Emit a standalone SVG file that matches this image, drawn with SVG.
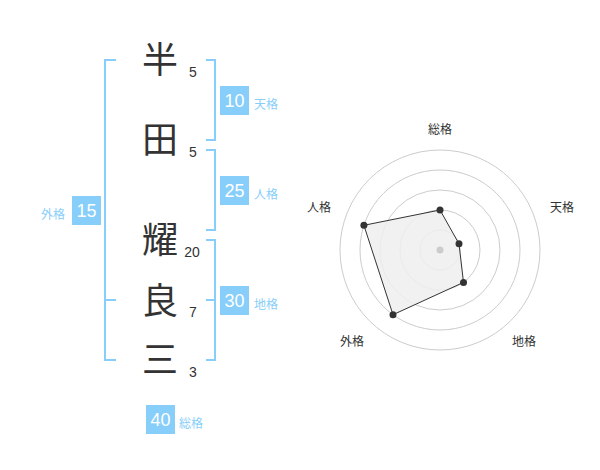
<svg xmlns="http://www.w3.org/2000/svg" width="600" height="470" viewBox="0 0 600 470">
<style>
.ch{font-family:"Noto Sans CJK JP","Noto Sans CJK SC",sans-serif;font-size:36px;fill:#333;text-anchor:middle}
.num{font-family:"Liberation Sans",Arial,sans-serif;font-size:14px;fill:#333;text-anchor:middle}
.br{fill:none;stroke:#87CEFA;stroke-width:2}
.box{fill:#87CEFA}
.bt{font-family:"Liberation Sans",Arial,sans-serif;font-size:18px;fill:#fff;text-anchor:middle}
.lb{font-family:"Noto Sans CJK JP","Noto Sans CJK SC",sans-serif;font-size:12px;fill:#87CEFA}
.rl{font-family:"Noto Sans CJK JP","Noto Sans CJK SC",sans-serif;font-size:12px;fill:#333;text-anchor:middle}
.ring{fill:none;stroke:#ccc;stroke-width:1}
.pt{fill:#333}
</style>
<rect width="600" height="470" fill="#fff"/>
<g id="chars">
<g id="c1"><text class="ch" x="160" y="73">半</text><text class="num" x="193" y="77">5</text></g>
<g id="c2"><text class="ch" x="160" y="153">田</text><text class="num" x="193" y="157">5</text></g>
<g id="c3"><text class="ch" x="160" y="253">耀</text><text class="num" x="192" y="257">20</text></g>
<g id="c4"><text class="ch" x="160" y="314">良</text><text class="num" x="193" y="317">7</text></g>
<g id="c5"><text class="ch" x="160" y="373">三</text><text class="num" x="193" y="377">3</text></g>
</g>
<g id="connectors">
<path class="br" d="M116,60 H105 V360 H116 M105,300 H116"/>
<path class="br" d="M206,60 H215 V140 H206"/>
<path class="br" d="M206,150 H215 V230 H206"/>
<path class="br" d="M206,240 H215 V360 H206 M215,300 H206"/>
</g>
<g id="tenkaku"><rect class="box" x="220" y="86" width="29" height="29"/><text class="bt" x="234.5" y="107">10</text><text class="lb" x="254" y="109">天格</text></g>
<g id="jinkaku"><rect class="box" x="220" y="176" width="29" height="29"/><text class="bt" x="234.5" y="197">25</text><text class="lb" x="254" y="199">人格</text></g>
<g id="chikaku"><rect class="box" x="220" y="286" width="29" height="29"/><text class="bt" x="234.5" y="307">30</text><text class="lb" x="254" y="309">地格</text></g>
<g id="gaikaku"><rect class="box" x="72" y="196" width="29" height="29"/><text class="bt" x="86.5" y="217">15</text><text class="lb" x="41" y="219">外格</text></g>
<g id="soukaku"><rect class="box" x="146" y="405" width="29" height="29"/><text class="bt" x="160.5" y="426">40</text><text class="lb" x="179" y="428">総格</text></g>
<g id="radar">
<circle class="ring" cx="440" cy="250" r="20"/>
<circle class="ring" cx="440" cy="250" r="40"/>
<circle class="ring" cx="440" cy="250" r="60"/>
<circle class="ring" cx="440" cy="250" r="80"/>
<circle class="ring" cx="440" cy="250" r="100"/>
<polygon points="440,210 459,243.8 463.5,282.4 393,314.7 363.9,225.3" fill="#eee" fill-opacity="0.85" stroke="#333" stroke-width="1"/>
<circle cx="440" cy="250" r="3.5" fill="#ccc"/>
<circle class="pt" cx="440" cy="210" r="3.5"/>
<circle class="pt" cx="459" cy="243.8" r="3.5"/>
<circle class="pt" cx="463.5" cy="282.4" r="3.5"/>
<circle class="pt" cx="393" cy="314.7" r="3.5"/>
<circle class="pt" cx="363.9" cy="225.3" r="3.5"/>
<text class="rl" x="440" y="134">総格</text>
<text class="rl" x="562" y="212">天格</text>
<text class="rl" x="524" y="346">地格</text>
<text class="rl" x="352" y="346">外格</text>
<text class="rl" x="319" y="212">人格</text>
</g>
</svg>
